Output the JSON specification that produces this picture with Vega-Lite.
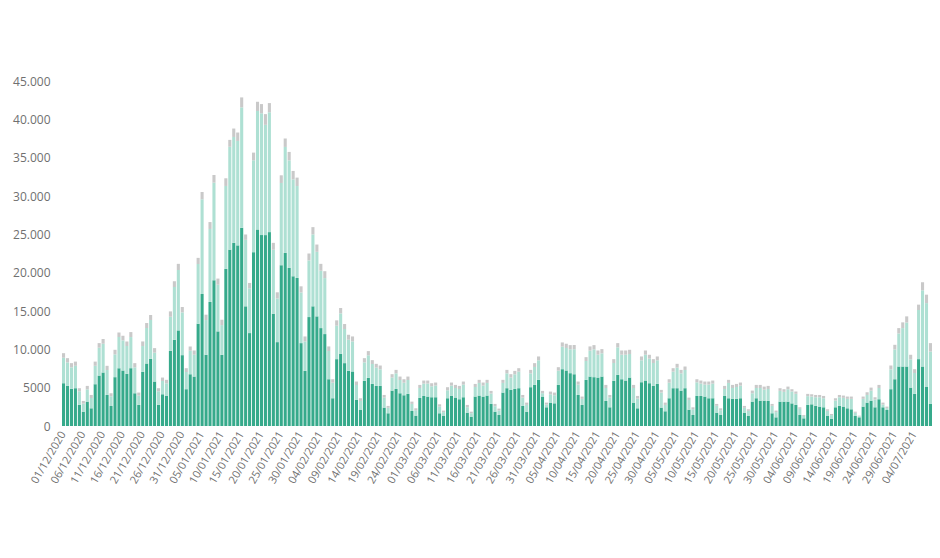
{
"$schema": "https://vega.github.io/schema/vega-lite/v6.json",
"width": 870, "height": 345,
"autosize": {"type": "none"},
"padding": {"left": 62, "top": 81, "right": 8, "bottom": 132},
"background": "white",
"config": {"view": {"stroke": null}, "axis": {"grid": false, "domain": false, "ticks": false, "labelFont": "Open Sans", "labelColor": "#707070"}},
"data": {"values": [
{"d":"01/12/2020","a":5580,"b":3320,"c":600},{"d":"02/12/2020","a":5230,"b":3070,"c":550},{"d":"03/12/2020","a":4840,"b":2810,"c":550},{"d":"04/12/2020","a":4930,"b":2920,"c":550},{"d":"05/12/2020","a":2750,"b":1780,"c":400},{"d":"06/12/2020","a":1870,"b":1050,"c":350},{"d":"07/12/2020","a":3180,"b":1600,"c":450},{"d":"08/12/2020","a":2310,"b":1340,"c":400},{"d":"09/12/2020","a":5450,"b":2400,"c":550},{"d":"10/12/2020","a":6580,"b":3630,"c":600},{"d":"11/12/2020","a":6980,"b":3760,"c":600},{"d":"12/12/2020","a":4050,"b":3250,"c":550},{"d":"13/12/2020","a":2620,"b":1250,"c":400},{"d":"14/12/2020","a":6370,"b":2970,"c":600},{"d":"15/12/2020","a":7540,"b":4070,"c":600},{"d":"16/12/2020","a":7240,"b":3930,"c":600},{"d":"17/12/2020","a":6800,"b":3630,"c":600},{"d":"18/12/2020","a":7540,"b":4060,"c":650},{"d":"19/12/2020","a":4270,"b":3380,"c":550},{"d":"20/12/2020","a":2750,"b":1210,"c":400},{"d":"21/12/2020","a":7060,"b":3370,"c":600},{"d":"22/12/2020","a":8150,"b":4630,"c":650},{"d":"23/12/2020","a":8760,"b":5070,"c":650},{"d":"24/12/2020","a":5800,"b":3760,"c":600},{"d":"25/12/2020","a":2750,"b":1780,"c":400},{"d":"26/12/2020","a":4140,"b":1730,"c":450},{"d":"27/12/2020","a":3920,"b":1650,"c":450},{"d":"28/12/2020","a":9810,"b":4440,"c":700},{"d":"29/12/2020","a":11250,"b":6880,"c":750},{"d":"30/12/2020","a":12470,"b":7880,"c":800},{"d":"31/12/2020","a":9240,"b":5580,"c":700},
{"d":"01/01/2021","a":4800,"b":2240,"c":500},{"d":"02/01/2021","a":6760,"b":3070,"c":550},{"d":"03/01/2021","a":6450,"b":2850,"c":550},{"d":"04/01/2021","a":13340,"b":7790,"c":800},{"d":"05/01/2021","a":17220,"b":12350,"c":950},{"d":"06/01/2021","a":9290,"b":4530,"c":700},{"d":"07/01/2021","a":16180,"b":9520,"c":900},{"d":"08/01/2021","a":19010,"b":12730,"c":1000},{"d":"09/01/2021","a":12340,"b":6090,"c":800},{"d":"10/01/2021","a":9290,"b":3870,"c":700},{"d":"11/01/2021","a":20490,"b":10820,"c":1000},{"d":"12/01/2021","a":23000,"b":13420,"c":900},{"d":"13/01/2021","a":23890,"b":13810,"c":1100},{"d":"14/01/2021","a":23560,"b":13620,"c":1100},{"d":"15/01/2021","a":25850,"b":15710,"c":1300},{"d":"16/01/2021","a":15610,"b":8670,"c":700},{"d":"17/01/2021","a":12120,"b":5840,"c":700},{"d":"18/01/2021","a":22670,"b":11990,"c":1000},{"d":"19/01/2021","a":25640,"b":15450,"c":1200},{"d":"20/01/2021","a":24900,"b":15890,"c":1200},{"d":"21/01/2021","a":24900,"b":14380,"c":1400},{"d":"22/01/2021","a":25290,"b":15630,"c":1200},{"d":"23/01/2021","a":14650,"b":8340,"c":900},{"d":"24/01/2021","a":10940,"b":5700,"c":800},{"d":"25/01/2021","a":20970,"b":10730,"c":1000},{"d":"26/01/2021","a":22580,"b":13820,"c":1100},{"d":"27/01/2021","a":20620,"b":14030,"c":1100},{"d":"28/01/2021","a":19530,"b":12640,"c":1100},{"d":"29/01/2021","a":19310,"b":11990,"c":1100},{"d":"30/01/2021","a":10810,"b":6610,"c":800},{"d":"31/01/2021","a":7190,"b":3840,"c":650},
{"d":"01/02/2021","a":14210,"b":7390,"c":900},{"d":"02/02/2021","a":15610,"b":9380,"c":950},{"d":"03/02/2021","a":14300,"b":8420,"c":950},{"d":"04/02/2021","a":12770,"b":7480,"c":900},{"d":"05/02/2021","a":11990,"b":7300,"c":900},{"d":"06/02/2021","a":6100,"b":3680,"c":600},{"d":"07/02/2021","a":3620,"b":2030,"c":450},{"d":"08/02/2021","a":8720,"b":4360,"c":700},{"d":"09/02/2021","a":9420,"b":5270,"c":700},{"d":"10/02/2021","a":8200,"b":4450,"c":650},{"d":"11/02/2021","a":7190,"b":4060,"c":650},{"d":"12/02/2021","a":7110,"b":3920,"c":650},{"d":"13/02/2021","a":3400,"b":1950,"c":450},{"d":"14/02/2021","a":2090,"b":1180,"c":350},{"d":"15/02/2021","a":5890,"b":2410,"c":550},{"d":"16/02/2021","a":6280,"b":2940,"c":550},{"d":"17/02/2021","a":5490,"b":2600,"c":500},{"d":"18/02/2021","a":5230,"b":2380,"c":500},{"d":"19/02/2021","a":5230,"b":2160,"c":500},{"d":"20/02/2021","a":2400,"b":1300,"c":350},{"d":"21/02/2021","a":1660,"b":710,"c":250},{"d":"22/02/2021","a":4620,"b":1690,"c":450},{"d":"23/02/2021","a":4840,"b":2030,"c":450},{"d":"24/02/2021","a":4270,"b":1730,"c":450},{"d":"25/02/2021","a":4010,"b":1640,"c":450},{"d":"26/02/2021","a":4190,"b":1810,"c":450},{"d":"27/02/2021","a":1960,"b":920,"c":300},{"d":"28/02/2021","a":1350,"b":710,"c":250},
{"d":"01/03/2021","a":3660,"b":1300,"c":400},{"d":"02/03/2021","a":3920,"b":1610,"c":400},{"d":"03/03/2021","a":3840,"b":1690,"c":400},{"d":"04/03/2021","a":3750,"b":1430,"c":400},{"d":"05/03/2021","a":3750,"b":1520,"c":400},{"d":"06/03/2021","a":1660,"b":870,"c":300},{"d":"07/03/2021","a":1350,"b":460,"c":200},{"d":"08/03/2021","a":3620,"b":1040,"c":400},{"d":"09/03/2021","a":3920,"b":1350,"c":400},{"d":"10/03/2021","a":3710,"b":1250,"c":400},{"d":"11/03/2021","a":3490,"b":1340,"c":400},{"d":"12/03/2021","a":3750,"b":1650,"c":400},{"d":"13/03/2021","a":1740,"b":710,"c":300},{"d":"14/03/2021","a":1220,"b":450,"c":200},{"d":"15/03/2021","a":3840,"b":1250,"c":400},{"d":"16/03/2021","a":3970,"b":1650,"c":400},{"d":"17/03/2021","a":3840,"b":1430,"c":400},{"d":"18/03/2021","a":3970,"b":1650,"c":400},{"d":"19/03/2021","a":2880,"b":1350,"c":350},{"d":"20/03/2021","a":1870,"b":710,"c":300},{"d":"21/03/2021","a":1440,"b":580,"c":250},{"d":"22/03/2021","a":4360,"b":1260,"c":400},{"d":"23/03/2021","a":4930,"b":1940,"c":450},{"d":"24/03/2021","a":4710,"b":1600,"c":450},{"d":"25/03/2021","a":4840,"b":1900,"c":450},{"d":"26/03/2021","a":4930,"b":2160,"c":450},{"d":"27/03/2021","a":2620,"b":1080,"c":350},{"d":"28/03/2021","a":1870,"b":880,"c":300},{"d":"29/03/2021","a":5060,"b":1810,"c":450},{"d":"30/03/2021","a":5360,"b":2340,"c":500},{"d":"31/03/2021","a":6020,"b":2550,"c":500},
{"d":"01/04/2021","a":3840,"b":440,"c":300},{"d":"02/04/2021","a":2440,"b":360,"c":250},{"d":"03/04/2021","a":3050,"b":1090,"c":350},{"d":"04/04/2021","a":2960,"b":1050,"c":350},{"d":"05/04/2021","a":5360,"b":1860,"c":450},{"d":"06/04/2021","a":7410,"b":2940,"c":550},{"d":"07/04/2021","a":7240,"b":2940,"c":550},{"d":"08/04/2021","a":6890,"b":3110,"c":550},{"d":"09/04/2021","a":6760,"b":3240,"c":550},{"d":"10/04/2021","a":4050,"b":1350,"c":400},{"d":"11/04/2021","a":2750,"b":790,"c":300},{"d":"12/04/2021","a":6020,"b":2460,"c":500},{"d":"13/04/2021","a":6450,"b":3380,"c":550},{"d":"14/04/2021","a":6370,"b":3630,"c":550},{"d":"15/04/2021","a":6320,"b":2980,"c":550},{"d":"16/04/2021","a":6450,"b":3030,"c":550},{"d":"17/04/2021","a":3270,"b":1690,"c":400},{"d":"18/04/2021","a":2440,"b":1260,"c":350},{"d":"19/04/2021","a":5890,"b":2330,"c":500},{"d":"20/04/2021","a":6670,"b":3590,"c":550},{"d":"21/04/2021","a":6100,"b":3200,"c":550},{"d":"22/04/2021","a":5930,"b":3370,"c":550},{"d":"23/04/2021","a":6320,"b":3070,"c":550},{"d":"24/04/2021","a":3050,"b":1910,"c":400},{"d":"25/04/2021","a":2310,"b":1260,"c":350},{"d":"26/04/2021","a":5710,"b":2860,"c":500},{"d":"27/04/2021","a":5930,"b":3370,"c":550},{"d":"28/04/2021","a":5580,"b":3210,"c":500},{"d":"29/04/2021","a":5230,"b":2990,"c":500},{"d":"30/04/2021","a":5490,"b":3080,"c":500},
{"d":"01/05/2021","a":2400,"b":1960,"c":350},{"d":"02/05/2021","a":1920,"b":830,"c":300},{"d":"03/05/2021","a":3620,"b":2030,"c":450},{"d":"04/05/2021","a":4930,"b":2160,"c":450},{"d":"05/05/2021","a":4930,"b":2680,"c":500},{"d":"06/05/2021","a":4620,"b":2250,"c":450},{"d":"07/05/2021","a":4930,"b":2380,"c":450},{"d":"08/05/2021","a":2130,"b":1270,"c":300},{"d":"09/05/2021","a":1440,"b":750,"c":250},{"d":"10/05/2021","a":3920,"b":1780,"c":400},{"d":"11/05/2021","a":3920,"b":1610,"c":400},{"d":"12/05/2021","a":3840,"b":1560,"c":400},{"d":"13/05/2021","a":3620,"b":1780,"c":400},{"d":"14/05/2021","a":3620,"b":1910,"c":400},{"d":"15/05/2021","a":1740,"b":890,"c":250},{"d":"16/05/2021","a":1440,"b":620,"c":250},{"d":"17/05/2021","a":3920,"b":910,"c":400},{"d":"18/05/2021","a":3620,"b":2000,"c":400},{"d":"19/05/2021","a":3530,"b":1430,"c":400},{"d":"20/05/2021","a":3530,"b":1560,"c":400},{"d":"21/05/2021","a":3620,"b":1650,"c":400},{"d":"22/05/2021","a":1740,"b":630,"c":250},{"d":"23/05/2021","a":1310,"b":670,"c":200},{"d":"24/05/2021","a":3180,"b":1090,"c":350},{"d":"25/05/2021","a":3620,"b":1340,"c":400},{"d":"26/05/2021","a":3310,"b":1650,"c":400},{"d":"27/05/2021","a":3310,"b":1430,"c":400},{"d":"28/05/2021","a":3270,"b":1560,"c":400},{"d":"29/05/2021","a":1660,"b":970,"c":250},{"d":"30/05/2021","a":1130,"b":680,"c":200},{"d":"31/05/2021","a":3180,"b":1400,"c":350},
{"d":"01/06/2021","a":3180,"b":1270,"c":350},{"d":"02/06/2021","a":3180,"b":1610,"c":350},{"d":"03/06/2021","a":2950,"b":1550,"c":300},{"d":"04/06/2021","a":2750,"b":1450,"c":300},{"d":"05/06/2021","a":1440,"b":800,"c":200},{"d":"06/06/2021","a":1000,"b":320,"c":120},{"d":"07/06/2021","a":2750,"b":1140,"c":300},{"d":"08/06/2021","a":2830,"b":1010,"c":300},{"d":"09/06/2021","a":2620,"b":1130,"c":300},{"d":"10/06/2021","a":2530,"b":1220,"c":300},{"d":"11/06/2021","a":2440,"b":1180,"c":300},{"d":"12/06/2021","a":1310,"b":670,"c":200},{"d":"13/06/2021","a":920,"b":500,"c":150},{"d":"14/06/2021","a":2440,"b":880,"c":300},{"d":"15/06/2021","a":2620,"b":1130,"c":300},{"d":"16/06/2021","a":2530,"b":1140,"c":300},{"d":"17/06/2021","a":2310,"b":1230,"c":300},{"d":"18/06/2021","a":2180,"b":1360,"c":300},{"d":"19/06/2021","a":1310,"b":410,"c":150},{"d":"20/06/2021","a":1130,"b":120,"c":100},{"d":"21/06/2021","a":2530,"b":1010,"c":300},{"d":"22/06/2021","a":3050,"b":1000,"c":350},{"d":"23/06/2021","a":3310,"b":1300,"c":400},{"d":"24/06/2021","a":2440,"b":1010,"c":300},{"d":"25/06/2021","a":3490,"b":1470,"c":400},{"d":"26/06/2021","a":2440,"b":360,"c":250},{"d":"27/06/2021","a":2090,"b":240,"c":200},{"d":"28/06/2021","a":4800,"b":2590,"c":500},{"d":"29/06/2021","a":6100,"b":3890,"c":600},{"d":"30/06/2021","a":7760,"b":4310,"c":700},
{"d":"01/07/2021","a":7760,"b":5010,"c":750},{"d":"02/07/2021","a":7760,"b":5740,"c":800},{"d":"03/07/2021","a":5010,"b":3680,"c":600},{"d":"04/07/2021","a":4190,"b":2720,"c":500},{"d":"05/07/2021","a":8720,"b":6410,"c":700},{"d":"06/07/2021","a":7760,"b":9940,"c":1050},{"d":"07/07/2021","a":5140,"b":10890,"c":1100},{"d":"08/07/2021","a":2880,"b":6830,"c":1100}
]},
"transform": [{"fold": ["a", "b", "c"], "as": ["k", "v"]}],
"mark": {"type": "bar"},
"encoding": {
 "x": {"field": "d", "type": "ordinal", "sort": null,
   "scale": {"paddingInner": 0.22, "paddingOuter": 0},
   "axis": {"title": null, "labelAngle": -60, "labelFontSize": 11, "labelPadding": 6,
     "values": ["01/12/2020","06/12/2020","11/12/2020","16/12/2020","21/12/2020","26/12/2020","31/12/2020","05/01/2021","10/01/2021","15/01/2021","20/01/2021","25/01/2021","30/01/2021","04/02/2021","09/02/2021","14/02/2021","19/02/2021","24/02/2021","01/03/2021","06/03/2021","11/03/2021","16/03/2021","21/03/2021","26/03/2021","31/03/2021","05/04/2021","10/04/2021","15/04/2021","20/04/2021","25/04/2021","30/04/2021","05/05/2021","10/05/2021","15/05/2021","20/05/2021","25/05/2021","30/05/2021","04/06/2021","09/06/2021","14/06/2021","19/06/2021","24/06/2021","29/06/2021","04/07/2021"]}},
 "y": {"field": "v", "type": "quantitative", "stack": "zero",
   "scale": {"domain": [0, 45000], "nice": false},
   "axis": {"title": null, "labelFontSize": 12, "labelPadding": 12,
     "values": [0,5000,10000,15000,20000,25000,30000,35000,40000,45000],
     "labelExpr": "datum.value >= 10000 ? replace(format(datum.value, ','), ',', '.') : format(datum.value, 'd')"}},
 "color": {"field": "k", "type": "nominal", "legend": null,
   "scale": {"domain": ["a", "b", "c"], "range": ["#36aa8b", "#aee0d3", "#c9c9c9"]}},
 "order": {"field": "k", "type": "ordinal", "sort": "ascending"}
}
}
